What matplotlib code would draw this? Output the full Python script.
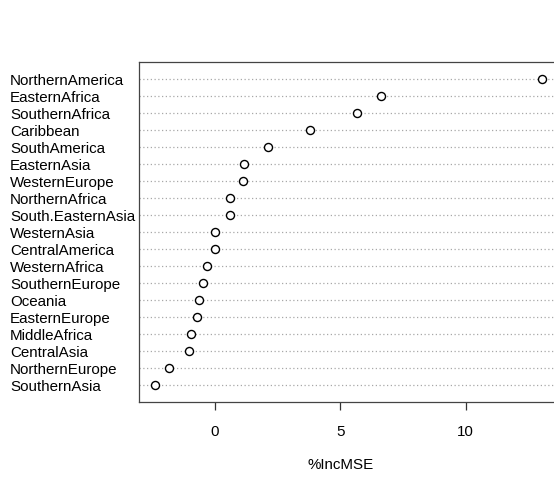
import numpy as np
import matplotlib
matplotlib.use('Agg')
import matplotlib.pyplot as plt

plt.rcParams['font.family'] = ['Liberation Sans', 'DejaVu Sans']

# regions, top to bottom as drawn
regions = ['NorthernAmerica', 'EasternAfrica', 'SouthernAfrica', 'Caribbean',
           'SouthAmerica', 'EasternAsia', 'WesternEurope', 'NorthernAfrica',
           'South.EasternAsia', 'WesternAsia', 'CentralAmerica', 'WesternAfrica',
           'SouthernEurope', 'Oceania', 'EasternEurope', 'MiddleAfrica',
           'CentralAsia', 'NorthernEurope', 'SouthernAsia']
inc_mse = [13.06, 6.62, 5.66, 3.80, 2.11, 1.18, 1.12, 0.60, 0.60, 0.0, 0.0,
           -0.32, -0.47, -0.61, -0.69, -0.94, -1.02, -1.83, -2.39]
xticks = [0, 5, 10]

W, H = 554, 479
fig = plt.figure(figsize=(W / 100, H / 100), dpi=100)
# plot box runs a little past the right edge of the image, as in the original
left, right, top, bottom = 139.3, 558.0, 62.0, 401.7
ax = fig.add_axes([left / W, (H - bottom) / H, (right - left) / W, (bottom - top) / H])

n = len(regions)
ypos = np.arange(n, 0, -1)

for y in ypos:
    ax.axhline(y, color='#a8a8a8', lw=0.9, linestyle=(0, (1, 2)), zorder=1)
ax.plot(inc_mse, ypos, 'o', mfc='white', mec='black', ms=5.8, mew=1.0,
        linestyle='none', zorder=3)

lo, hi = min(inc_mse), max(inc_mse)
pad = (hi - lo) * 0.04
ax.set_xlim(lo - pad, hi + pad)
ax.set_ylim(0, n + 1)

ax.set_yticks([])
ax.set_xticks(xticks)
ax.set_xticklabels([str(t) for t in xticks], fontsize=10.9)
ax.tick_params(axis='x', length=6, width=0.9, color='#333333', pad=11)
for s in ax.spines.values():
    s.set_color('#444444')
    s.set_linewidth(0.9)

trans = matplotlib.transforms.blended_transform_factory(fig.transFigure, ax.transData)
for lab, y in zip(regions, ypos):
    ax.text(10 / W, y - 0.12, lab, transform=trans, ha='left', va='center',
            fontsize=10.9, clip_on=False)

fig.text(340.5 / W, 1 - 465 / H, '%IncMSE', ha='center', va='center', fontsize=10.9)

fig.savefig('out.png', dpi=100)
